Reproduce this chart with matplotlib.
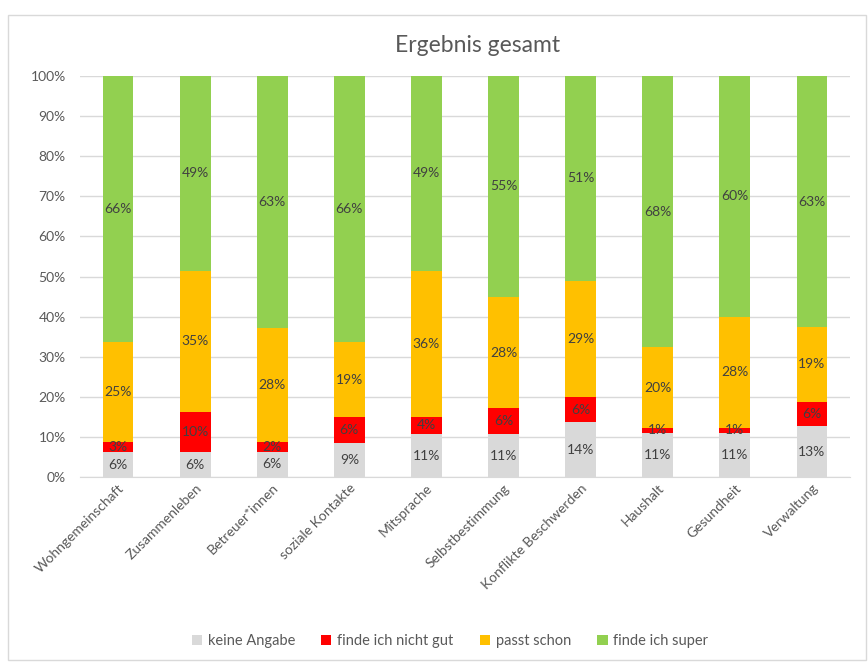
import matplotlib.pyplot as plt
import numpy as np
from matplotlib.patches import Rectangle

plt.rcParams['font.family'] = ['Lato', 'DejaVu Sans']

CATEGORIES = ["Wohngemeinschaft", "Zusammenleben", "Betreuer*innen", "soziale Kontakte",
              "Mitsprache", "Selbstbestimmung", "Konflikte Beschwerden", "Haushalt",
              "Gesundheit", "Verwaltung"]

keine_angabe = [6.2, 6.2, 6.3, 8.6, 10.7, 10.7, 13.6, 10.9, 10.9, 12.6]
nicht_gut = [2.6, 10.0, 2.4, 6.4, 4.3, 6.4, 6.4, 1.4, 1.4, 6.2]
passt_schon = [24.9, 35.2, 28.4, 18.6, 36.4, 27.8, 29.0, 20.0, 27.7, 18.6]
super = [66.3, 48.6, 62.9, 66.4, 48.6, 55.1, 51.0, 67.7, 60.0, 62.6]

SERIES = [("keine Angabe", keine_angabe, "#D9D9D9"),
          ("finde ich nicht gut", nicht_gut, "#FF0000"),
          ("passt schon", passt_schon, "#FFC000"),
          ("finde ich super", super, "#92D050")]

TXT = "#595959"

fig = plt.figure(figsize=(8.68, 6.62), dpi=100)
ax = fig.add_axes([79.5 / 868, 1 - 477 / 662, 771 / 868, 401 / 662])

x = np.arange(len(CATEGORIES))
bottom = np.zeros(len(CATEGORIES))
for name, vals, col in SERIES:
    v = np.array(vals) / 100.0
    ax.bar(x, v, 0.4, bottom=bottom, color=col, label=name, zorder=3)
    for xi, b, h in zip(x, bottom, v):
        ax.text(xi, b + h / 2, f"{round(h * 100)}%", ha="center", va="center",
                fontsize=10, color="#404040", zorder=4)
    bottom += v

ax.set_xlim(-0.5, len(CATEGORIES) - 0.5)
ax.set_ylim(0, 1)
ax.set_yticks(np.arange(0, 1.01, 0.1))
ax.set_yticklabels([f"{int(t)}%" for t in np.arange(0, 101, 10)])
ax.yaxis.grid(True, color="#D9D9D9", linewidth=1, zorder=0)
for s in ["top", "right", "left"]:
    ax.spines[s].set_visible(False)
ax.spines["bottom"].set_color("#D9D9D9")
ax.tick_params(axis="both", length=0, colors=TXT, labelsize=10)
ax.tick_params(axis="y", pad=10)
ax.set_xticks(x)
ax.set_xticklabels(CATEGORIES, rotation=45, ha="right", rotation_mode="anchor")

fig.text(478 / 868, 1 - 46 / 662, "Ergebnis gesamt", ha="center", va="center",
         fontsize=16.5, color=TXT)

fig.legend(loc="center", bbox_to_anchor=(450 / 868, 1 - 641 / 662), ncol=4,
           frameon=False, fontsize=10.5, handlelength=0.7, handleheight=0.7,
           handletextpad=0.4, columnspacing=1.8, labelcolor=TXT)

fig.patches.append(Rectangle((8 / 868, 2 / 662), 858 / 868, 645 / 662,
                             transform=fig.transFigure, fill=False,
                             edgecolor="#D9D9D9", linewidth=1))

fig.savefig("out.png", dpi=100)
